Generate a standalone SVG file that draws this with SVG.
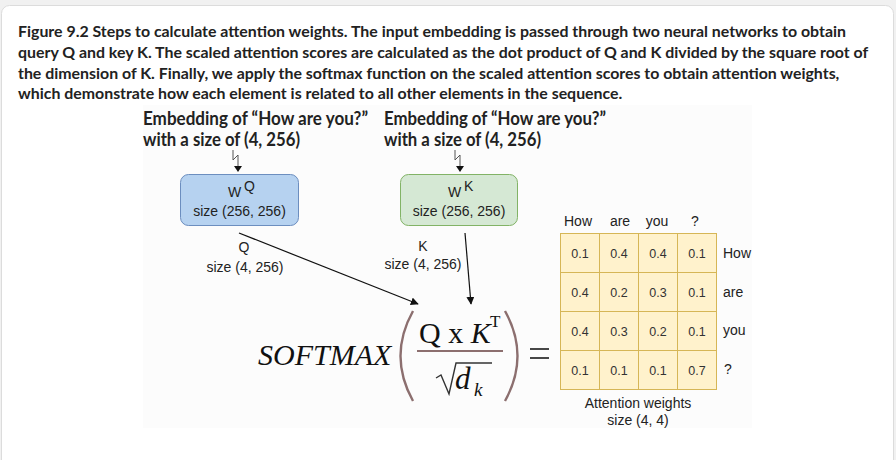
<svg xmlns="http://www.w3.org/2000/svg" width="896" height="460" viewBox="0 0 896 460">
<defs>
<marker id="ah" viewBox="0 0 10 10" refX="9" refY="5" markerWidth="8" markerHeight="8" markerUnits="userSpaceOnUse" orient="auto"><path d="M0,0 L10,5 L0,10 Z" fill="#111"/></marker>
</defs>
<style>
.cap{font-family:Lato,"Liberation Sans",sans-serif;font-weight:700;font-size:15.9px;fill:#222}
.emb{font-family:"Liberation Sans Narrow",Lato,"Liberation Sans",sans-serif;font-weight:700;font-size:18.5px;fill:#222}
.lbl{font-family:"Liberation Sans",Arial,sans-serif;font-size:14px;fill:#222}
.val{font-family:"Liberation Sans",Arial,sans-serif;font-size:12.5px;fill:#333;text-anchor:middle}
.hd{font-family:"Liberation Sans",Arial,sans-serif;font-size:14px;fill:#222}
.m{font-family:"Liberation Serif","Times New Roman",serif;fill:#111}
.cell{fill:#fff2cc;stroke:#d6b656;stroke-width:1}
.conn{stroke:#111;stroke-width:1.2;fill:none}
.sq{stroke:#555;stroke-width:1;fill:none}
.par{stroke:#8c6f6f;stroke-width:2.4;fill:none}
</style>
<rect x="0" y="0" width="896" height="460" fill="#f1f1f1"/>
<rect x="1.5" y="5.5" width="892" height="470" rx="8" fill="#fff" stroke="#dcdcdc"/>
<g id="caption">
<text class="cap" x="18" y="37">Figure 9.2 Steps to calculate attention weights. The input embedding is passed through two neural networks to obtain</text>
<text class="cap" x="18" y="58">query Q and key K. The scaled attention scores are calculated as the dot product of Q and K divided by the square root of</text>
<text class="cap" x="18" y="79">the dimension of K. Finally, we apply the softmax function on the scaled attention scores to obtain attention weights,</text>
<text class="cap" x="18" y="99">which demonstrate how each element is related to all other elements in the sequence.</text>
</g>
<rect x="143" y="105" width="609" height="323" fill="#fcfcfc"/>
<g id="embQ">
<text class="emb" x="143" y="125" textLength="225" lengthAdjust="spacingAndGlyphs">Embedding of “How are you?”</text>
<text class="emb" x="143" y="146" textLength="157" lengthAdjust="spacingAndGlyphs">with a size of (4, 256)</text>
</g>
<g id="embK">
<text class="emb" x="384" y="125" textLength="222" lengthAdjust="spacingAndGlyphs">Embedding of “How are you?”</text>
<text class="emb" x="384" y="146" textLength="157" lengthAdjust="spacingAndGlyphs">with a size of (4, 256)</text>
</g>
<g id="WQ">
<rect x="180.5" y="174.5" width="118" height="51" rx="8" fill="#b6d2f0" stroke="#6c8ebf"/>
<text class="hd" x="228" y="197" font-size="17">W</text><text class="hd" x="244" y="191" font-size="13">Q</text>
<text class="lbl" x="239.5" y="216" text-anchor="middle">size (256, 256)</text>
</g>
<g id="WK">
<rect x="400.5" y="174.5" width="117" height="51" rx="8" fill="#d5e8d4" stroke="#82b366"/>
<text class="hd" x="448" y="197" font-size="17">W</text><text class="hd" x="464" y="191" font-size="13">K</text>
<text class="lbl" x="459" y="216" text-anchor="middle">size (256, 256)</text>
</g>
<g id="connectors">
<path class="sq" d="M233,150 L233,160 L238,155 L238,166"/>
<path d="M234,166 L242,166 L238,172 Z" fill="#111"/>
<path class="sq" d="M455,150 L455,160 L460,155 L460,166"/>
<path d="M456,166 L464,166 L460,172 Z" fill="#111"/>
<line class="conn" x1="239" y1="233" x2="418" y2="304" marker-end="url(#ah)"/>
<line class="conn" x1="465" y1="233" x2="471" y2="304" marker-end="url(#ah)"/>
<text class="lbl" x="244" y="252" text-anchor="middle">Q</text>
<text class="lbl" x="245" y="272" text-anchor="middle">size (4, 256)</text>
<text class="lbl" x="423" y="251" text-anchor="middle">K</text>
<text class="lbl" x="423" y="269" text-anchor="middle">size (4, 256)</text>
</g>
<g id="formula">
<text class="m" x="258" y="365" font-size="30" font-style="italic">SOFTMAX</text>
<path class="par" d="M413,311 Q388,356 413,401"/>
<path class="par" d="M505,311 Q530,356 505,401"/>
<text class="m" x="419" y="343" font-size="30">Q x <tspan font-style="italic">K</tspan></text>
<text class="m" x="490" y="327" font-size="17">T</text>
<line x1="417" y1="351" x2="503" y2="351" stroke="#8c6f6f" stroke-width="2"/>
<path d="M436,378 L441,375 L449,394 L456,363 L492,363" fill="none" stroke="#333" stroke-width="1.4"/>
<text class="m" x="455" y="389" font-size="31" font-style="italic">d</text>
<text class="m" x="474" y="396" font-size="19" font-style="italic">k</text>
<line x1="530" y1="349" x2="549" y2="349" stroke="#333" stroke-width="1.8"/>
<line x1="530" y1="358" x2="549" y2="358" stroke="#333" stroke-width="1.8"/>
</g>
<g id="matrix">
<rect class="cell" x="560.5" y="233.5" width="39" height="39"/>
<rect class="cell" x="599.5" y="233.5" width="39" height="39"/>
<rect class="cell" x="638.5" y="233.5" width="39" height="39"/>
<rect class="cell" x="677.5" y="233.5" width="39" height="39"/>
<rect class="cell" x="560.5" y="272.5" width="39" height="39"/>
<rect class="cell" x="599.5" y="272.5" width="39" height="39"/>
<rect class="cell" x="638.5" y="272.5" width="39" height="39"/>
<rect class="cell" x="677.5" y="272.5" width="39" height="39"/>
<rect class="cell" x="560.5" y="311.5" width="39" height="39"/>
<rect class="cell" x="599.5" y="311.5" width="39" height="39"/>
<rect class="cell" x="638.5" y="311.5" width="39" height="39"/>
<rect class="cell" x="677.5" y="311.5" width="39" height="39"/>
<rect class="cell" x="560.5" y="350.5" width="39" height="39"/>
<rect class="cell" x="599.5" y="350.5" width="39" height="39"/>
<rect class="cell" x="638.5" y="350.5" width="39" height="39"/>
<rect class="cell" x="677.5" y="350.5" width="39" height="39"/>
<text class="val" x="580" y="258">0.1</text><text class="val" x="619" y="258">0.4</text><text class="val" x="658" y="258">0.4</text><text class="val" x="697" y="258">0.1</text>
<text class="val" x="580" y="297">0.4</text><text class="val" x="619" y="297">0.2</text><text class="val" x="658" y="297">0.3</text><text class="val" x="697" y="297">0.1</text>
<text class="val" x="580" y="336">0.4</text><text class="val" x="619" y="336">0.3</text><text class="val" x="658" y="336">0.2</text><text class="val" x="697" y="336">0.1</text>
<text class="val" x="580" y="375">0.1</text><text class="val" x="619" y="375">0.1</text><text class="val" x="658" y="375">0.1</text><text class="val" x="697" y="375">0.7</text>
<text class="hd" x="578" y="226" text-anchor="middle">How</text>
<text class="hd" x="620" y="226" text-anchor="middle">are</text>
<text class="hd" x="657" y="226" text-anchor="middle">you</text>
<text class="hd" x="695" y="226" text-anchor="middle">?</text>
<text class="hd" x="723" y="258">How</text>
<text class="hd" x="723" y="297">are</text>
<text class="hd" x="723" y="335">you</text>
<text class="hd" x="724" y="374">?</text>
<text class="hd" x="638" y="408" text-anchor="middle">Attention weights</text>
<text class="hd" x="638" y="425" text-anchor="middle">size (4, 4)</text>
</g>
</svg>
